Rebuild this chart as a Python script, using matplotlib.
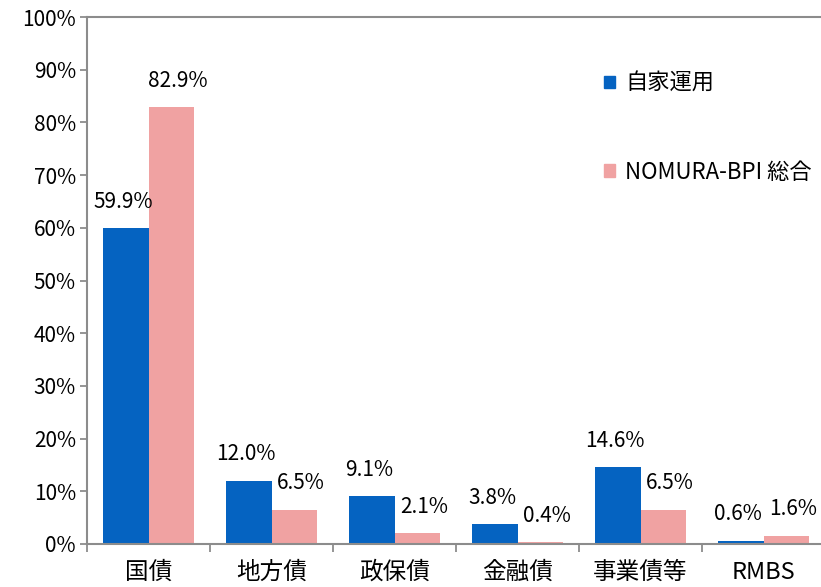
import matplotlib.pyplot as plt
import numpy as np
from matplotlib.patches import Patch

plt.rcParams['font.family'] = ['Noto Sans CJK JP', 'DejaVu Sans']

categories = ['国債', '地方債', '政保債', '金融債', '事業債等', 'RMBS']
jika = [59.9, 12.0, 9.1, 3.8, 14.6, 0.6]
nomura = [82.9, 6.5, 2.1, 0.4, 6.5, 1.6]
series_names = ['自家運用', 'NOMURA-BPI 総合']
blue = '#0563C1'
pink = '#F0A2A2'
axis_grey = '#8C8C8C'

fig = plt.figure(figsize=(8.21, 5.87), dpi=100)
ax = fig.add_axes([87 / 821, 43 / 587, 738 / 821, 527 / 587])

x = np.arange(len(categories))
w = 0.37
b1 = ax.bar(x - w / 2, jika, w, color=blue)
b2 = ax.bar(x + w / 2, nomura, w, color=pink)

for bars, vals, dx in ((b1, jika, -2), (b2, nomura, 5)):
    for r, v in zip(bars, vals):
        ax.annotate(f'{v:.1f}%', (r.get_x() + r.get_width() / 2, v),
                    xytext=(dx, 19), textcoords='offset points',
                    ha='center', va='center', fontsize=15)

ax.set_xlim(-0.5, len(categories) - 0.5)
ax.set_ylim(0, 100)
ax.set_yticks(np.arange(0, 101, 10))
ax.set_yticklabels([f'{t}%' for t in range(0, 101, 10)], fontsize=15)
ax.set_xticks(x)
ax.set_xticklabels(categories, fontsize=17)
ax.set_xticks(np.arange(-0.5, len(categories), 1), minor=True)
ax.tick_params(axis='x', which='major', length=0, pad=12)
ax.tick_params(axis='x', which='minor', length=6, color=axis_grey, width=1.3)
ax.tick_params(axis='y', length=5, color=axis_grey, width=1.3, pad=3)

for s in ('left', 'bottom', 'top'):
    ax.spines[s].set_color(axis_grey)
    ax.spines[s].set_linewidth(1.5)
ax.spines['right'].set_visible(False)

handles = [Patch(color=blue), Patch(color=pink)]
fig.legend(handles, series_names, loc='upper left', bbox_to_anchor=(584 / 821, 1 - 52 / 587),
           frameon=False, fontsize=16, handlelength=0.5, handleheight=0.5,
           handletextpad=0.45, labelspacing=2.95)

fig.savefig('out.png', dpi=100)
